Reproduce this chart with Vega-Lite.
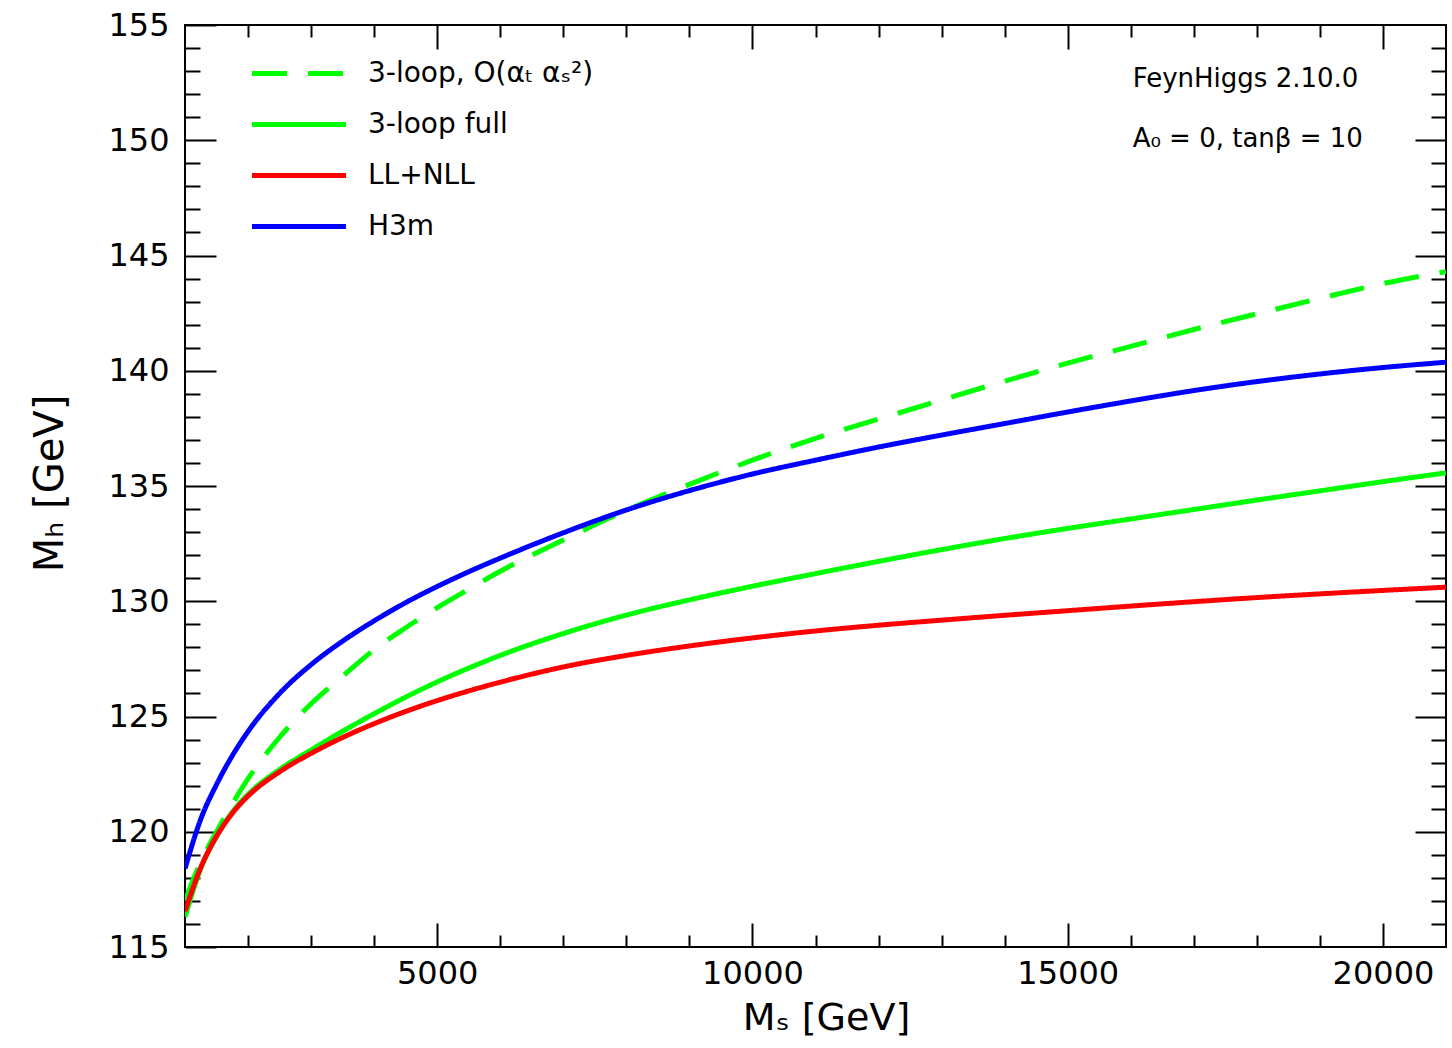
{
  "$schema": "https://vega.github.io/schema/vega-lite/v6.json",
  "width": 1261,
  "height": 922,
  "autosize": {"type": "none"},
  "padding": {"left": 185, "top": 25, "right": 6, "bottom": 101},
  "background": "white",
  "config": {
    "view": {"stroke": "black", "strokeWidth": 2},
    "axis": {
      "domain": false, "grid": false, "tickColor": "black", "tickWidth": 2,
      "labelFont": "DejaVu Sans", "labelColor": "black", "titleFont": "DejaVu Sans",
      "titleColor": "black", "titleFontWeight": "normal", "labelFlush": false, "labelOverlap": false
    },
    "legend": {
      "orient": "none", "legendX": 64.5, "legendY": 23, "symbolType": "stroke",
      "symbolSize": 8836, "symbolStrokeWidth": 5, "labelFontSize": 28, "labelFont": "DejaVu Sans",
      "labelColor": "black", "clipHeight": 51, "rowPadding": 0, "labelOffset": 19.5, "padding": 0,
      "symbolOffset": 0, "labelLimit": 0
    }
  },
  "data": {
    "values": [
      {"ms": 1000, "mh": 117.0, "series": "3-loop, O(αₜ αₛ²)"},
      {"ms": 1250, "mh": 118.7, "series": "3-loop, O(αₜ αₛ²)"},
      {"ms": 1500, "mh": 120.0, "series": "3-loop, O(αₜ αₛ²)"},
      {"ms": 1750, "mh": 121.2, "series": "3-loop, O(αₜ αₛ²)"},
      {"ms": 2000, "mh": 122.3, "series": "3-loop, O(αₜ αₛ²)"},
      {"ms": 2500, "mh": 124.1, "series": "3-loop, O(αₜ αₛ²)"},
      {"ms": 3000, "mh": 125.55, "series": "3-loop, O(αₜ αₛ²)"},
      {"ms": 3500, "mh": 126.75, "series": "3-loop, O(αₜ αₛ²)"},
      {"ms": 4000, "mh": 127.9, "series": "3-loop, O(αₜ αₛ²)"},
      {"ms": 4500, "mh": 128.85, "series": "3-loop, O(αₜ αₛ²)"},
      {"ms": 5000, "mh": 129.72, "series": "3-loop, O(αₜ αₛ²)"},
      {"ms": 5500, "mh": 130.52, "series": "3-loop, O(αₜ αₛ²)"},
      {"ms": 6000, "mh": 131.3, "series": "3-loop, O(αₜ αₛ²)"},
      {"ms": 7000, "mh": 132.66, "series": "3-loop, O(αₜ αₛ²)"},
      {"ms": 8000, "mh": 133.94, "series": "3-loop, O(αₜ αₛ²)"},
      {"ms": 9000, "mh": 135.07, "series": "3-loop, O(αₜ αₛ²)"},
      {"ms": 10000, "mh": 136.12, "series": "3-loop, O(αₜ αₛ²)"},
      {"ms": 11000, "mh": 137.07, "series": "3-loop, O(αₜ αₛ²)"},
      {"ms": 12000, "mh": 137.9, "series": "3-loop, O(αₜ αₛ²)"},
      {"ms": 13000, "mh": 138.73, "series": "3-loop, O(αₜ αₛ²)"},
      {"ms": 14000, "mh": 139.55, "series": "3-loop, O(αₜ αₛ²)"},
      {"ms": 15000, "mh": 140.33, "series": "3-loop, O(αₜ αₛ²)"},
      {"ms": 16000, "mh": 141.06, "series": "3-loop, O(αₜ αₛ²)"},
      {"ms": 17000, "mh": 141.79, "series": "3-loop, O(αₜ αₛ²)"},
      {"ms": 18000, "mh": 142.47, "series": "3-loop, O(αₜ αₛ²)"},
      {"ms": 19000, "mh": 143.14, "series": "3-loop, O(αₜ αₛ²)"},
      {"ms": 20000, "mh": 143.78, "series": "3-loop, O(αₜ αₛ²)"},
      {"ms": 21000, "mh": 144.3, "series": "3-loop, O(αₜ αₛ²)"},
      {"ms": 1000, "mh": 116.3, "series": "3-loop full"},
      {"ms": 1250, "mh": 118.4, "series": "3-loop full"},
      {"ms": 1500, "mh": 119.8, "series": "3-loop full"},
      {"ms": 1750, "mh": 120.85, "series": "3-loop full"},
      {"ms": 2000, "mh": 121.62, "series": "3-loop full"},
      {"ms": 2500, "mh": 122.7, "series": "3-loop full"},
      {"ms": 3000, "mh": 123.55, "series": "3-loop full"},
      {"ms": 3500, "mh": 124.36, "series": "3-loop full"},
      {"ms": 4000, "mh": 125.12, "series": "3-loop full"},
      {"ms": 4500, "mh": 125.84, "series": "3-loop full"},
      {"ms": 5000, "mh": 126.5, "series": "3-loop full"},
      {"ms": 5500, "mh": 127.1, "series": "3-loop full"},
      {"ms": 6000, "mh": 127.65, "series": "3-loop full"},
      {"ms": 7000, "mh": 128.6, "series": "3-loop full"},
      {"ms": 8000, "mh": 129.4, "series": "3-loop full"},
      {"ms": 9000, "mh": 130.06, "series": "3-loop full"},
      {"ms": 10000, "mh": 130.65, "series": "3-loop full"},
      {"ms": 11000, "mh": 131.2, "series": "3-loop full"},
      {"ms": 12000, "mh": 131.73, "series": "3-loop full"},
      {"ms": 13000, "mh": 132.24, "series": "3-loop full"},
      {"ms": 14000, "mh": 132.72, "series": "3-loop full"},
      {"ms": 15000, "mh": 133.16, "series": "3-loop full"},
      {"ms": 16000, "mh": 133.57, "series": "3-loop full"},
      {"ms": 17000, "mh": 133.98, "series": "3-loop full"},
      {"ms": 18000, "mh": 134.39, "series": "3-loop full"},
      {"ms": 19000, "mh": 134.79, "series": "3-loop full"},
      {"ms": 20000, "mh": 135.19, "series": "3-loop full"},
      {"ms": 21000, "mh": 135.57, "series": "3-loop full"},
      {"ms": 1000, "mh": 116.55, "series": "LL+NLL"},
      {"ms": 1250, "mh": 118.45, "series": "LL+NLL"},
      {"ms": 1500, "mh": 119.8, "series": "LL+NLL"},
      {"ms": 1750, "mh": 120.8, "series": "LL+NLL"},
      {"ms": 2000, "mh": 121.55, "series": "LL+NLL"},
      {"ms": 2500, "mh": 122.6, "series": "LL+NLL"},
      {"ms": 3000, "mh": 123.4, "series": "LL+NLL"},
      {"ms": 3500, "mh": 124.09, "series": "LL+NLL"},
      {"ms": 4000, "mh": 124.69, "series": "LL+NLL"},
      {"ms": 4500, "mh": 125.22, "series": "LL+NLL"},
      {"ms": 5000, "mh": 125.69, "series": "LL+NLL"},
      {"ms": 5500, "mh": 126.11, "series": "LL+NLL"},
      {"ms": 6000, "mh": 126.49, "series": "LL+NLL"},
      {"ms": 7000, "mh": 127.15, "series": "LL+NLL"},
      {"ms": 8000, "mh": 127.65, "series": "LL+NLL"},
      {"ms": 9000, "mh": 128.06, "series": "LL+NLL"},
      {"ms": 10000, "mh": 128.41, "series": "LL+NLL"},
      {"ms": 11000, "mh": 128.71, "series": "LL+NLL"},
      {"ms": 12000, "mh": 128.96, "series": "LL+NLL"},
      {"ms": 13000, "mh": 129.18, "series": "LL+NLL"},
      {"ms": 14000, "mh": 129.39, "series": "LL+NLL"},
      {"ms": 15000, "mh": 129.59, "series": "LL+NLL"},
      {"ms": 16000, "mh": 129.79, "series": "LL+NLL"},
      {"ms": 17000, "mh": 129.98, "series": "LL+NLL"},
      {"ms": 18000, "mh": 130.16, "series": "LL+NLL"},
      {"ms": 19000, "mh": 130.32, "series": "LL+NLL"},
      {"ms": 20000, "mh": 130.47, "series": "LL+NLL"},
      {"ms": 21000, "mh": 130.61, "series": "LL+NLL"},
      {"ms": 1000, "mh": 118.4, "series": "H3m"},
      {"ms": 1250, "mh": 120.55, "series": "H3m"},
      {"ms": 1500, "mh": 122.05, "series": "H3m"},
      {"ms": 1750, "mh": 123.3, "series": "H3m"},
      {"ms": 2000, "mh": 124.35, "series": "H3m"},
      {"ms": 2500, "mh": 126.0, "series": "H3m"},
      {"ms": 3000, "mh": 127.25, "series": "H3m"},
      {"ms": 3500, "mh": 128.27, "series": "H3m"},
      {"ms": 4000, "mh": 129.15, "series": "H3m"},
      {"ms": 4500, "mh": 129.94, "series": "H3m"},
      {"ms": 5000, "mh": 130.64, "series": "H3m"},
      {"ms": 5500, "mh": 131.28, "series": "H3m"},
      {"ms": 6000, "mh": 131.87, "series": "H3m"},
      {"ms": 7000, "mh": 132.97, "series": "H3m"},
      {"ms": 8000, "mh": 133.96, "series": "H3m"},
      {"ms": 9000, "mh": 134.8, "series": "H3m"},
      {"ms": 10000, "mh": 135.52, "series": "H3m"},
      {"ms": 11000, "mh": 136.12, "series": "H3m"},
      {"ms": 12000, "mh": 136.69, "series": "H3m"},
      {"ms": 13000, "mh": 137.21, "series": "H3m"},
      {"ms": 14000, "mh": 137.71, "series": "H3m"},
      {"ms": 15000, "mh": 138.21, "series": "H3m"},
      {"ms": 16000, "mh": 138.69, "series": "H3m"},
      {"ms": 17000, "mh": 139.14, "series": "H3m"},
      {"ms": 18000, "mh": 139.53, "series": "H3m"},
      {"ms": 19000, "mh": 139.86, "series": "H3m"},
      {"ms": 20000, "mh": 140.14, "series": "H3m"},
      {"ms": 21000, "mh": 140.37, "series": "H3m"}
    ]
  },
  "layer": [
    {
      "mark": {"type": "point", "opacity": 0},
      "encoding": {
        "x": {"field": "ms", "type": "quantitative", "axis": {"orient": "bottom", "values": [2000, 3000, 4000, 6000, 7000, 8000, 9000, 11000, 12000, 13000, 14000, 16000, 17000, 18000, 19000], "tickSize": -12, "labels": false, "title": null}},
        "y": {"field": "mh", "type": "quantitative", "axis": {"orient": "left", "values": [116, 117, 118, 119, 121, 122, 123, 124, 126, 127, 128, 129, 131, 132, 133, 134, 136, 137, 138, 139, 141, 142, 143, 144, 146, 147, 148, 149, 151, 152, 153, 154], "tickSize": -15, "labels": false, "title": null}}
      }
    },
    {
      "mark": {"type": "point", "opacity": 0},
      "encoding": {
        "x": {"field": "ms", "type": "quantitative", "axis": {"orient": "top", "values": [5000, 10000, 15000, 20000], "tickSize": -24, "labels": false, "title": null}},
        "y": {"field": "mh", "type": "quantitative", "axis": {"orient": "right", "values": [120, 125, 130, 135, 140, 145, 150], "tickSize": -31, "labels": false, "title": null}}
      }
    },
    {
      "mark": {"type": "point", "opacity": 0},
      "encoding": {
        "x": {"field": "ms", "type": "quantitative", "axis": {"orient": "top", "values": [2000, 3000, 4000, 6000, 7000, 8000, 9000, 11000, 12000, 13000, 14000, 16000, 17000, 18000, 19000], "tickSize": -12, "labels": false, "title": null}},
        "y": {"field": "mh", "type": "quantitative", "axis": {"orient": "right", "values": [116, 117, 118, 119, 121, 122, 123, 124, 126, 127, 128, 129, 131, 132, 133, 134, 136, 137, 138, 139, 141, 142, 143, 144, 146, 147, 148, 149, 151, 152, 153, 154], "tickSize": -15, "labels": false, "title": null}}
      }
    },
    {
      "mark": {"type": "line", "strokeWidth": 5, "strokeCap": "butt", "interpolate": "monotone", "clip": true},
      "encoding": {
        "x": {
          "field": "ms", "type": "quantitative",
          "scale": {"domain": [1000, 21000], "nice": false, "zero": false},
          "axis": {"orient": "bottom", "values": [5000, 10000, 15000, 20000], "format": "d", "tickSize": -24, "labelPadding": 35, "labelFontSize": 32, "title": "Mₛ [GeV]", "titleFontSize": 38, "titleX": 641, "titleY": 82, "titleBaseline": "alphabetic", "titleAlign": "center"}
        },
        "y": {
          "field": "mh", "type": "quantitative",
          "scale": {"domain": [115, 155], "nice": false, "zero": false},
          "axis": {"orient": "left", "values": [115, 120, 125, 130, 135, 140, 145, 150, 155], "format": "d", "tickSize": -31, "labelPadding": 47, "labelFontSize": 32, "title": "Mₕ [GeV]", "titleFontSize": 40, "titleX": -123, "titleY": 458, "titleAngle": -90, "titleBaseline": "alphabetic", "titleAlign": "center"}
        },
        "color": {
          "field": "series", "type": "nominal", "title": null,
          "scale": {"domain": ["3-loop, O(αₜ αₛ²)", "3-loop full", "LL+NLL", "H3m"], "range": ["#00ff00", "#00ff00", "#ff0000", "#0000ff"]}
        },
        "strokeDash": {
          "field": "series", "type": "nominal", "title": null,
          "scale": {"domain": ["3-loop, O(αₜ αₛ²)", "3-loop full", "LL+NLL", "H3m"], "range": [[35, 21], [1, 0], [1, 0], [1, 0]]}
        }
      }
    },
    {
      "data": {"values": [{"note": "FeynHiggs 2.10.0"}]},
      "mark": {"type": "text", "align": "left", "baseline": "alphabetic", "fontSize": 26, "font": "DejaVu Sans", "color": "black"},
      "encoding": {
        "x": {"datum": 16030, "type": "quantitative", "axis": null},
        "y": {"datum": 152.31, "type": "quantitative", "axis": null},
        "text": {"field": "note"}
      }
    },
    {
      "data": {"values": [{"note": "A₀ = 0, tanβ = 10"}]},
      "mark": {"type": "text", "align": "left", "baseline": "alphabetic", "fontSize": 26, "font": "DejaVu Sans", "color": "black"},
      "encoding": {
        "x": {"datum": 16030, "type": "quantitative", "axis": null},
        "y": {"datum": 149.7, "type": "quantitative", "axis": null},
        "text": {"field": "note"}
      }
    }
  ],
  "resolve": {"axis": {"x": "independent", "y": "independent"}}
}
